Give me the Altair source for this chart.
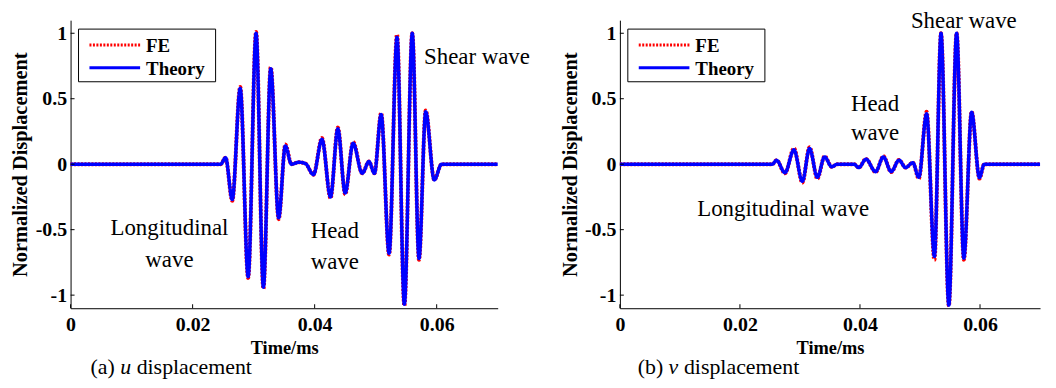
import altair as alt
import pandas as pd

# ---------------- data ----------------
t_u = [0, 0.0246, 0.0254, 0.0265, 0.0278, 0.0291, 0.0304, 0.0316, 0.0328, 0.0341,
       0.0352, 0.0362, 0.0374, 0.0385, 0.0398, 0.0412, 0.0426, 0.0438, 0.0450, 0.0463,
       0.0478, 0.0489, 0.0498, 0.0509, 0.0522, 0.0535, 0.0547, 0.0560, 0.0571, 0.0582,
       0.0596, 0.0608, 0.07]
u_theory = [0, 0, 0.05, -0.27, 0.58, -0.86, 1.0, -0.94, 0.73, -0.41,
            0.14, 0.0, 0.015, 0.005, -0.08, 0.19, -0.25, 0.27, -0.22, 0.16,
            -0.07, 0.02, -0.07, 0.38, -0.68, 0.97, -1.07, 1.0, -0.72, 0.40,
            -0.12, 0, 0]
u_fe = [0, 0, 0.05, -0.28, 0.59, -0.87, 1.01, -0.95, 0.74, -0.42,
        0.15, 0.0, 0.015, 0.005, -0.08, 0.2, -0.26, 0.28, -0.23, 0.17,
        -0.07, 0.02, -0.07, 0.39, -0.69, 0.99, -1.08, 1.0, -0.73, 0.41,
        -0.12, 0, 0]

t_v = [0, 0.0254, 0.0261, 0.0275, 0.0290, 0.0304, 0.0316, 0.0329, 0.0341, 0.0353,
       0.0362, 0.0390, 0.0398, 0.0410, 0.0426, 0.0439, 0.0452, 0.0465, 0.0476, 0.0488,
       0.0498, 0.0511, 0.0524, 0.0535, 0.0548, 0.0561, 0.0573, 0.0586, 0.0599, 0.0607,
       0.07]
v_theory = [0, 0, 0.03, -0.065, 0.11, -0.13, 0.12, -0.10, 0.056, -0.02,
            0, 0, -0.026, 0.038, -0.057, 0.056, -0.057, 0.031, -0.026, 0.012,
            -0.10, 0.385, -0.705, 1.0, -1.077, 1.0, -0.718, 0.397, -0.103, 0,
            0]
v_fe = [0, 0, 0.03, -0.07, 0.12, -0.14, 0.13, -0.11, 0.06, -0.02,
        0, 0, -0.026, 0.04, -0.06, 0.06, -0.06, 0.033, -0.026, 0.012,
        -0.11, 0.40, -0.73, 1.0, -1.08, 1.0, -0.73, 0.40, -0.11, 0,
        0]

x_ticks = [0, 0.02, 0.04, 0.06]
y_ticks = [-1, -0.5, 0, 0.5, 1]
series_names = ["FE", "Theory"]
series_colors = ["#ff0000", "#0000ff"]
series_dash = [[2, 1.5], [1, 0]]
series_width = [4, 3.5]

ann_a_text = ["Longitudinal", "wave", "Head", "wave", "Shear wave"]
ann_a_t = [0.0162, 0.0162, 0.0433, 0.0433, 0.0666]
ann_a_y = [-0.49, -0.73, -0.51, -0.75, 0.82]

ann_b_text = ["Shear wave", "Head", "wave", "Longitudinal wave"]
ann_b_t = [0.0573, 0.0425, 0.0425, 0.0272]
ann_b_y = [1.09, 0.46, 0.24, -0.34]

caption_a = ["(a)", "u", "displacement"]
caption_b = ["(b)", "v", "displacement"]

# ---------------- styling ----------------
SERIF = "Liberation Serif"
H = 290
W_A = 430
W_B = 423


def panel(t, theory, fe, ann_text, ann_t, ann_y, caption, width, cap_x, cap_offsets):
    n = len(t)
    df = pd.DataFrame({
        "t": list(t) + list(t),
        "val": list(fe) + list(theory),
        "series": ["FE"] * n + ["Theory"] * n,
    })
    xs = alt.Scale(domain=[0, 0.07], nice=False, zero=False)
    ys = alt.Scale(domain=[-1.1, 1.1], nice=False, zero=False)
    x_axis = alt.Axis(values=x_ticks, title="Time/ms", labelExpr="toString(datum.value)",
                      labelPadding=6, titlePadding=5, labelFlush=False, labelOverlap=False,
                      titleFontSize=18.5)
    y_axis = alt.Axis(values=y_ticks, title="Normalized Displacement",
                      labelExpr="toString(datum.value)", labelPadding=4,
                      labelFlush=False, labelOverlap=False,
                      titleAngle=270, titleX=-50, titleY=H / 2,
                      titleAlign="center", titleBaseline="middle", titleFontSize=20.5)

    lines = alt.Chart(df).mark_line(interpolate="monotone").encode(
        x=alt.X("t:Q", scale=xs, axis=x_axis),
        y=alt.Y("val:Q", scale=ys, axis=y_axis),
        color=alt.Color("series:N", scale=alt.Scale(domain=series_names, range=series_colors),
                        legend=None),
        strokeDash=alt.StrokeDash("series:N",
                                  scale=alt.Scale(domain=series_names, range=series_dash),
                                  legend=None),
        strokeWidth=alt.StrokeWidth("series:N",
                                    scale=alt.Scale(domain=series_names, range=series_width),
                                    legend=None),
    )

    xt = alt.Chart(pd.DataFrame({"t": x_ticks})).mark_rule(color="black", strokeWidth=1).encode(
        x=alt.X("t:Q", scale=xs, axis=x_axis),
        y=alt.value(H), y2=alt.value(H - 4),
    )
    yt = alt.Chart(pd.DataFrame({"val": y_ticks})).mark_rule(color="black", strokeWidth=1).encode(
        y=alt.Y("val:Q", scale=ys, axis=y_axis),
        x=alt.value(0), x2=alt.value(4),
    )

    ann = alt.Chart(pd.DataFrame({"txt": ann_text, "t": ann_t, "val": ann_y})).mark_text(
        font=SERIF, fontSize=23, color="black", align="center", baseline="middle"
    ).encode(
        x=alt.X("t:Q", scale=xs, axis=x_axis),
        y=alt.Y("val:Q", scale=ys, axis=y_axis),
        text="txt:N",
    )

    # legend box (drawn as a frame in the upper-left corner of the plot)
    box = alt.Chart(pd.DataFrame({"k": [0]})).mark_rect(
        fill="white", stroke="black", strokeWidth=1
    ).encode(x=alt.value(8), x2=alt.value(146), y=alt.value(9), y2=alt.value(62))
    leg_lines = []
    leg_texts = []
    for i, name in enumerate(series_names):
        yy = 25 + 23 * i
        leg_lines.append(
            alt.Chart(pd.DataFrame({"s": [name]})).mark_rule(
                color=series_colors[i], strokeDash=series_dash[i], strokeWidth=3
            ).encode(x=alt.value(19), x2=alt.value(70), y=alt.value(yy))
        )
        leg_texts.append(
            alt.Chart(pd.DataFrame({"s": [name]})).mark_text(
                font=SERIF, fontSize=19, fontWeight="bold", color="black",
                align="left", baseline="middle"
            ).encode(text="s:N", x=alt.value(76), y=alt.value(yy + 1))
        )

    cap_y = H + 66
    cap_layers = []
    for i, piece in enumerate(caption):
        cap_layers.append(
            alt.Chart(pd.DataFrame({"s": [piece]})).mark_text(
                font=SERIF, fontSize=22, color="black", align="left", baseline="alphabetic",
                fontStyle="italic" if i == 1 else "normal",
            ).encode(text="s:N", x=alt.value(cap_x + cap_offsets[i]), y=alt.value(cap_y))
        )

    return alt.layer(lines, xt, yt, ann, box, *leg_lines, *leg_texts, *cap_layers).properties(
        width=width, height=H)


pa = panel(t_u, u_theory, u_fe, ann_a_text, ann_a_t, ann_a_y, caption_a, W_A, 20, [0, 30, 46.5])
pb = panel(t_v, v_theory, v_fe, ann_b_text, ann_b_t, ann_b_y, caption_b, W_B, 18, [0, 31, 46.5])

chart = alt.hconcat(pa, pb, spacing=123, bounds="flush").resolve_scale(
    color="independent", strokeDash="independent", strokeWidth="independent",
    x="independent", y="independent",
).properties(
    padding={"left": 3, "top": 1, "right": 0, "bottom": 0}
).configure_view(stroke=None).configure_axis(
    grid=False, ticks=False, tickSize=0, domainColor="black", domainWidth=1,
    labelFont=SERIF, labelFontSize=20, labelFontWeight="bold", labelColor="black",
    titleFont=SERIF, titleFontSize=19, titleFontWeight="bold", titleColor="black",
)

chart.save("out.html", embed_options={"renderer": "svg", "actions": False})
